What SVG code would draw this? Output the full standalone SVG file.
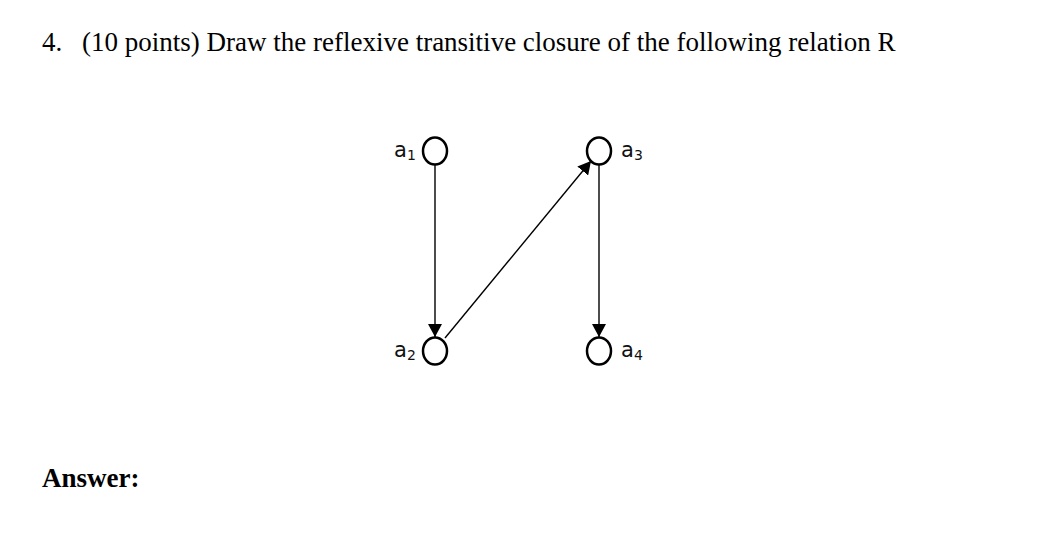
<svg xmlns="http://www.w3.org/2000/svg" width="1049" height="558" viewBox="0 0 1049 558">
<style>
.title{font-family:"Liberation Serif","Times New Roman",serif;font-size:27px;fill:#000}
.ans{font-family:"Liberation Serif","Times New Roman",serif;font-size:27px;font-weight:bold;fill:#000}
.lbl{font-family:"DejaVu Sans",Verdana,sans-serif;font-size:21px;fill:#111}
.sub{font-size:14px}
.node{fill:#fff;stroke:#000;stroke-width:2.5}
.edge{stroke:#000;stroke-width:1.4;fill:none;marker-end:url(#arr)}
</style>
<defs>
<marker id="arr" markerUnits="userSpaceOnUse" markerWidth="14" markerHeight="14" viewBox="0 0 14 14" refX="13" refY="7" orient="auto">
<path d="M0,0 L13,7 L0,14 Z" fill="#000"/>
</marker>
</defs>
<rect width="1049" height="558" fill="#fff"/>
<text class="title" x="42" y="51">4.</text>
<text class="title" x="82" y="51">(10 points) Draw the reflexive transitive closure of the following relation R</text>
<text class="ans" x="42" y="487">Answer:</text>
<g id="connectors">
<line class="edge" x1="435" y1="165" x2="435" y2="337"/>
<line class="edge" x1="599" y1="165" x2="599" y2="337"/>
<line class="edge" x1="445" y1="338" x2="591" y2="161"/>
</g>
<g id="a1">
<ellipse class="node" cx="435" cy="151" rx="12" ry="13.5"/>
<text class="lbl" x="394" y="157">a<tspan class="sub" dy="3">1</tspan></text>
</g>
<g id="a2">
<ellipse class="node" cx="435" cy="351" rx="12" ry="13.5"/>
<text class="lbl" x="394" y="357">a<tspan class="sub" dy="3">2</tspan></text>
</g>
<g id="a3">
<ellipse class="node" cx="599" cy="151" rx="12" ry="13.5"/>
<text class="lbl" x="621" y="157">a<tspan class="sub" dy="3">3</tspan></text>
</g>
<g id="a4">
<ellipse class="node" cx="599" cy="351" rx="12" ry="13.5"/>
<text class="lbl" x="621" y="357">a<tspan class="sub" dy="3">4</tspan></text>
</g>
</svg>
